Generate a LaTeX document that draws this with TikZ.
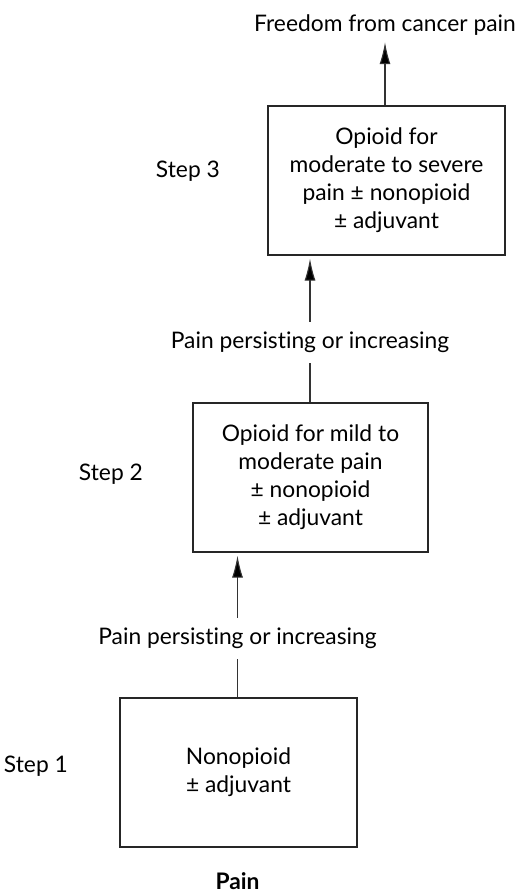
\documentclass[tikz,border=0pt]{standalone}
\usepackage{fontspec}
\setmainfont{Lato}[Ligatures={NoCommon,NoRare}]
\usetikzlibrary{arrows.meta}
\begin{document}
\begin{tikzpicture}[x=1pt,y=-1pt,
  every node/.style={font=\fontsize{22.8}{28}\selectfont, text=black},
  stepbox/.style={draw=black!85, line width=1.2pt, align=center, inner sep=0pt},
  flowlbl/.style={inner xsep=2pt, inner ysep=10pt, text height=16pt, text depth=5pt, anchor=base},
  steplbl/.style={anchor=base east, inner sep=0pt},
  arr/.style={draw=black!80, line width=1.1pt, -{Latex[length=22pt,width=11pt,fill=black]}},
  conn/.style={draw=black!80, line width=1.1pt}
]
\useasboundingbox (0,0) rectangle (515,896);

% boxes
\node[stepbox, minimum width=237pt, minimum height=149pt] (b3) at (386.5,180.5)
  {Opioid for\\moderate to severe\\pain ± nonopioid\\± adjuvant};
\node[stepbox, minimum width=235pt, minimum height=149pt] (b2) at (310.5,477.5)
  {Opioid for mild to\\moderate pain\\± nonopioid\\± adjuvant};
\node[stepbox, minimum width=237pt, minimum height=149pt] (b1) at (238.5,772.5)
  {Nonopioid\\± adjuvant};

% top and bottom texts
\node[anchor=base, inner xsep=0pt, inner ysep=5pt, text depth=5pt] (fr) at (385,32) {Freedom from cancer pain};
\node[anchor=base, inner sep=0pt, font=\fontsize{22.8}{28}\selectfont\bfseries] (pain) at (237.5,889) {Pain};

% flow labels
\node[flowlbl] (l2) at (310,348) {Pain persisting or increasing};
\node[flowlbl] (l3) at (237.5,644) {Pain persisting or increasing};

% step labels
\node[steplbl] (s3) at (220,178) {Step 3};
\node[steplbl] (s2) at (143,480) {Step 2};
\node[steplbl] (s1) at (68,772) {Step 1};

% connectors
\draw[arr] (b3.north -| fr.south) -- (fr.south);
\draw[arr, shorten >=3pt] (l2.north) -- (l2.north |- b3.south);
\draw[conn] (b2.north -| l2.south) -- (l2.south);
\draw[arr, shorten >=3pt] (l3.north) -- (l3.north |- b2.south);
\draw[conn] (b1.north -| l3.south) -- (l3.south);
\end{tikzpicture}
\end{document}
